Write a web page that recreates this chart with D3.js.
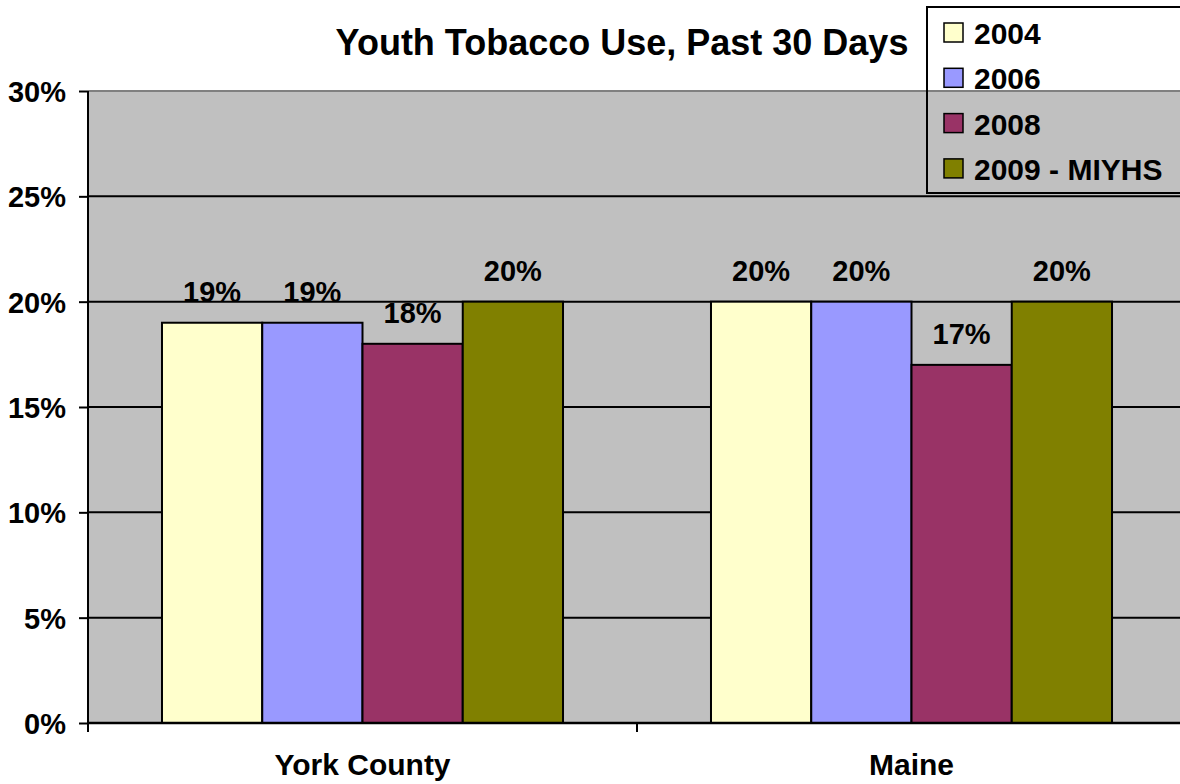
<!DOCTYPE html>
<html>
<head>
<meta charset="utf-8">
<script src="https://cdn.jsdelivr.net/npm/d3@7"></script>
<style>
  body { margin: 0; background: #fff; }
  text { font-family: "Liberation Sans", Arial, sans-serif; font-weight: bold; }
</style>
</head>
<body>
<div id="chart"></div>
<script>
let categories = ["York County", "Maine"];
let seriesNames = ["2004", "2006", "2008", "2009 - MIYHS"];
let seriesColors = ["#FFFFCC", "#9999FF", "#993366", "#808000"];
let values = [
    [0.19, 0.20],
    [0.19, 0.20],
    [0.18, 0.17],
    [0.20, 0.20]
];
let yTicks = [0, 0.05, 0.10, 0.15, 0.20, 0.25, 0.30];

function init() {
    let width = 1180;
    let height = 784;
    let left = 88, right = 1186, top = 91, bottom = 723;

    let svg = d3.select("#chart")
        .append("svg")
        .attr("width", width)
        .attr("height", height);

    let x0 = d3.scaleBand().domain(categories).range([left, right]);
    let x1 = d3.scaleBand().domain(seriesNames)
        .range([0, x0.bandwidth()])
        .paddingInner(0)
        .paddingOuter(0.738);
    let y = d3.scaleLinear().domain([0, 0.30]).range([bottom, top]);

    // plot area
    svg.append("rect")
        .attr("x", left).attr("y", top)
        .attr("width", right - left).attr("height", bottom - top)
        .attr("fill", "#C0C0C0");

    // gridlines
    svg.selectAll(".grid")
        .data(yTicks.slice(1))
        .enter().append("line")
        .attr("x1", left).attr("x2", right)
        .attr("y1", d => y(d)).attr("y2", d => y(d))
        .attr("stroke", d => d === 0.30 ? "#808080" : "#000")
        .attr("stroke-width", 2);

    // bars
    seriesNames.forEach(function (s, i) {
        let g = svg.append("g");
        g.selectAll("rect")
            .data(values[i])
            .enter().append("rect")
            .attr("x", (d, j) => x0(categories[j]) + x1(s))
            .attr("y", d => y(d))
            .attr("width", x1.bandwidth())
            .attr("height", d => bottom - y(d))
            .attr("fill", seriesColors[i])
            .attr("stroke", "#000")
            .attr("stroke-width", 2);
        g.selectAll("text")
            .data(values[i])
            .enter().append("text")
            .attr("x", (d, j) => x0(categories[j]) + x1(s) + x1.bandwidth() / 2)
            .attr("y", d => y(d) - 21)
            .attr("text-anchor", "middle")
            .attr("font-size", 29)
            .text(d => Math.round(d * 100) + "%");
    });

    // y axis
    let yAxis = svg.append("g")
        .attr("transform", "translate(" + left + ",0)")
        .call(d3.axisLeft(y).tickValues(yTicks).tickSize(9).tickPadding(13)
            .tickFormat(d => Math.round(d * 100) + "%"));
    yAxis.select(".domain").attr("stroke", "#000").attr("stroke-width", 2).attr("d", "M0," + top + "V" + (bottom + 9));
    yAxis.selectAll(".tick line").attr("stroke-width", 2);
    yAxis.selectAll("text").attr("font-size", 29).attr("fill", "#000").attr("dy", "0.36em");

    // x axis
    let xAxis = svg.append("g")
        .attr("transform", "translate(0," + bottom + ")");
    xAxis.append("line")
        .attr("x1", left).attr("x2", right)
        .attr("stroke", "#000").attr("stroke-width", 2.5);
    xAxis.selectAll(".xt")
        .data(categories.concat(["end"]))
        .enter().append("line")
        .attr("x1", (d, i) => i < categories.length ? x0(d) : right)
        .attr("x2", (d, i) => i < categories.length ? x0(d) : right)
        .attr("y1", 0).attr("y2", 9)
        .attr("stroke", "#000").attr("stroke-width", 2);
    xAxis.selectAll("text")
        .data(categories)
        .enter().append("text")
        .attr("x", d => x0(d) + x0.bandwidth() / 2)
        .attr("y", 52)
        .attr("text-anchor", "middle")
        .attr("font-size", 30)
        .text(d => d);

    // title
    svg.append("text")
        .attr("x", 622).attr("y", 55)
        .attr("text-anchor", "middle")
        .attr("font-size", 36)
        .text("Youth Tobacco Use, Past 30 Days");

    // legend
    let legend = svg.append("g").attr("transform", "translate(927,7)");
    legend.append("rect")
        .attr("width", 270).attr("height", 186)
        .attr("fill", "none").attr("stroke", "#000").attr("stroke-width", 2);
    seriesNames.forEach(function (s, i) {
        let row = legend.append("g").attr("transform", "translate(17," + (37 + i * 45.3) + ")");
        row.append("rect")
            .attr("x", 0).attr("y", -21)
            .attr("width", 19).attr("height", 19)
            .attr("fill", seriesColors[i]).attr("stroke", "#000").attr("stroke-width", 1.5);
        row.append("text")
            .attr("x", 30).attr("y", 0)
            .attr("font-size", 30)
            .text(s);
    });
}

window.addEventListener('load', init);
</script>
</body>
</html>
